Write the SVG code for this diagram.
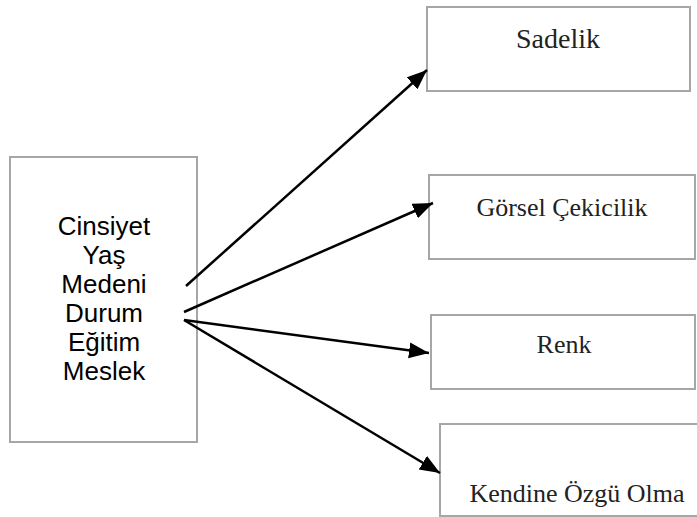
<svg xmlns="http://www.w3.org/2000/svg" width="697" height="517" viewBox="0 0 697 517">
<defs>
<style>
.box{fill:#fff;stroke:#a6a6a6;stroke-width:2}
.serif{font-family:"Liberation Serif","DejaVu Serif",serif;font-size:26px;fill:#222;text-anchor:middle}
.sans{font-family:"Liberation Sans","DejaVu Sans",sans-serif;font-size:26px;fill:#000;text-anchor:middle}
.conn{stroke:#000;stroke-width:2.5;fill:none;marker-end:url(#ah)}
</style>
<marker id="ah" markerUnits="userSpaceOnUse" markerWidth="22" markerHeight="18" refX="20" refY="8" orient="auto">
<path d="M0,0 L20,8 L0,16 Z" fill="#000"/>
</marker>
</defs>
<rect width="697" height="517" fill="#fff"/>
<g id="left">
<rect class="box" x="10" y="157" width="187" height="285"/>
<text class="sans" x="104" y="235">Cinsiyet</text>
<text class="sans" x="104" y="264">Yaş</text>
<text class="sans" x="104" y="293">Medeni</text>
<text class="sans" x="104" y="322">Durum</text>
<text class="sans" x="104" y="351">Eğitim</text>
<text class="sans" x="104" y="380">Meslek</text>
</g>
<g id="sadelik">
<rect class="box" x="427" y="7" width="263" height="84"/>
<text class="serif" x="558" y="48" style="font-size:28px">Sadelik</text>
</g>
<g id="gorsel">
<rect class="box" x="429" y="175" width="266" height="84"/>
<text class="serif" x="562" y="216">Görsel Çekicilik</text>
</g>
<g id="renk">
<rect class="box" x="431" y="315" width="264" height="74"/>
<text class="serif" x="564" y="353">Renk</text>
</g>
<g id="kendine">
<rect class="box" x="440" y="424" width="270" height="92"/>
<text class="serif" x="577" y="502">Kendine Özgü Olma</text>
</g>
<g id="connectors">
<line class="conn" x1="186" y1="286" x2="427" y2="70"/>
<line class="conn" x1="184" y1="312" x2="433" y2="203"/>
<line class="conn" x1="184" y1="320" x2="429" y2="353"/>
<line class="conn" x1="184" y1="320" x2="440" y2="473"/>
</g>
</svg>
